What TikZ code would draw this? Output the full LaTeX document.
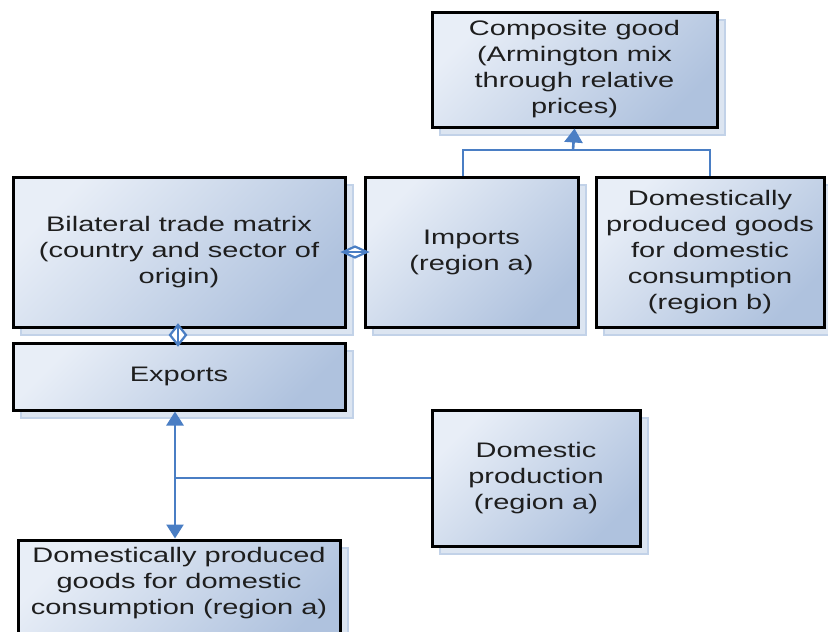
\documentclass[tikz,border=0pt]{standalone}
\usepackage{fontspec}
\setmainfont{Liberation Sans}[FakeStretch=1.38]
\usetikzlibrary{arrows.meta,shadows,calc}
\definecolor{boxlight}{HTML}{E8EEF7}
\definecolor{boxdark}{HTML}{AFC2DE}
\definecolor{shadowc}{HTML}{DCE5F1}
\definecolor{shadowedge}{HTML}{C2D2E8}
\definecolor{conncol}{HTML}{4A7EC4}
\definecolor{txt}{HTML}{1E1E1E}
\begin{document}
\begin{tikzpicture}[x=1pt,y=-1pt,
  box/.style={draw=black, line width=3pt, top color=boxlight, bottom color=boxdark,
    shading angle=45, align=center, text=txt, font=\fontsize{21}{26}\selectfont,
    inner sep=0pt,
    drop shadow={shadow xshift=8pt, shadow yshift=-8pt, opacity=1, fill=shadowc, draw=shadowedge, line width=1.5pt}},
  lbl/.style={align=center, text=txt, font=\fontsize{21}{26}\selectfont, inner sep=0pt},
  conn/.style={draw=conncol, line width=2.6pt},
  dmd/.style={draw=conncol, line width=2.2pt, fill=white, line join=miter},
  filltip/.style={-{Triangle[length=14pt,width=18pt]}},
  bothtip/.style={{Triangle[length=14pt,width=17pt]}-{Triangle[length=14pt,width=17pt]}}
]
\useasboundingbox (0,0) rectangle (828,632);
\fill[white] (0,0) rectangle (828,632);
\clip (0,0) rectangle (828,632);

\node[box, minimum width=285pt, minimum height=115pt] (comp) at (574.5,69.5)
  {Composite good\\(Armington mix\\through relative\\prices)};
\node[box, minimum width=332pt, minimum height=150pt] (bil) at (179,252)
  {Bilateral trade matrix\\(country and sector of\\origin)};
\node[box, minimum width=213pt, minimum height=150pt] (imp) at (471.5,252)
  {Imports\\(region a)};
\node[box, minimum width=228pt, minimum height=150pt] (domb) at (710,252)
  {Domestically\\produced goods\\for domestic\\consumption\\(region b)};
\node[box, minimum width=332pt, minimum height=67pt] (exp) at (179,376.5)
  {Exports};
\node[box, minimum width=208pt, minimum height=136pt] (dprod) at (536,478)
  {Domestic\\production\\(region a)};
\node[box, minimum width=322pt, minimum height=112pt] (doma) at (179,596) {};
\node[lbl] (domatext) at (179,583)
  {Domestically produced\\goods for domestic\\consumption (region a)};

% imports + domestic (b) -> composite
\coordinate (j) at (573,150);
\coordinate (jl) at (463,150);
\draw[conn] (jl |- imp.north) -- (jl) -- (j) -| (domb.north);
\draw[conn, filltip] (j) -- (comp.south);

% bilateral <-> imports (open diamond)
\coordinate (m1) at ($(bil.east)!0.5!(imp.west)$);
\draw[dmd] ([xshift=-12pt]m1) -- ([yshift=5.5pt]m1) -- ([xshift=12pt]m1) -- ([yshift=-5.5pt]m1) -- cycle;
\draw[draw=conncol, line width=2pt] ([xshift=-12pt]m1) -- ([xshift=12pt]m1);

% bilateral <-> exports (open diamond)
\coordinate (bx) at (178,0);
\coordinate (m2) at ($(bx |- bil.south)!0.5!(bx |- exp.north)$);
\draw[dmd] ([yshift=-10pt]m2) -- ([xshift=8pt]m2) -- ([yshift=10pt]m2) -- ([xshift=-8pt]m2) -- cycle;
\draw[draw=conncol, line width=2pt] ([yshift=-10pt]m2) -- ([yshift=10pt]m2);

% exports <-> domestic (a), domestic production
\coordinate (ex) at (175,0);
\draw[conn, bothtip] (ex |- exp.south) -- (ex |- doma.north);
\coordinate (pj) at (175,478);
\draw[conn] (dprod.west) -- (pj);
\end{tikzpicture}
\end{document}
